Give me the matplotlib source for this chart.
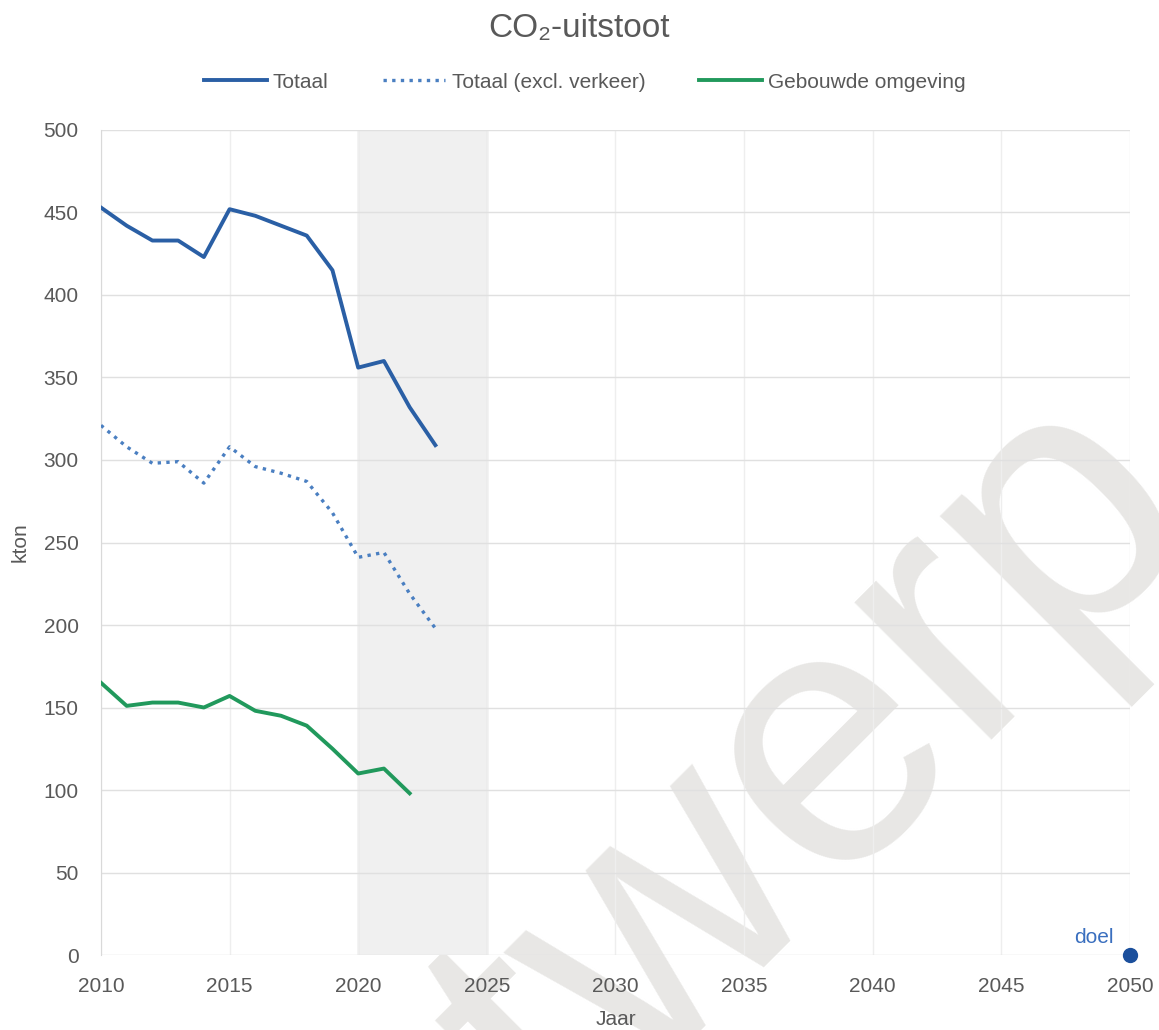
import matplotlib.pyplot as plt

plt.rcParams['font.family'] = ['Liberation Sans', 'DejaVu Sans']

years = list(range(2010, 2024))
totaal = [453, 442, 433, 433, 423, 452, 448, 442, 436, 415, 356, 360, 332, 309]
totaal_excl = [321, 308, 298, 299, 286, 308, 296, 292, 287, 268, 241, 244, 219, 198]
years_gebouwd = list(range(2010, 2023))
gebouwd = [165, 151, 153, 153, 150, 157, 148, 145, 139, 125, 110, 113, 98]
doel_jaar = [2050]
doel = [0]
xticks = list(range(2010, 2051, 5))
yticks = list(range(0, 501, 50))

grey = '#595959'

fig = plt.figure(figsize=(11.59, 10.30), dpi=100)
ax = fig.add_axes([0.0871, 0.0728, 0.8878, 0.801])
ax.set_zorder(1)
ax.patch.set_alpha(0)

# watermark behind the plot
fig.text(1.036, 0.502, 'Ontwerp', rotation=45, rotation_mode='anchor',
         ha='right', va='baseline', fontsize=265, color='#e8e7e5', zorder=0)

ax.axvspan(2020, 2025, color='#f0f0f0', zorder=0)
ax.axvline(2020, color='#dcdcdc', lw=1, zorder=0.5)
ax.axvline(2025, color='#dcdcdc', lw=1, zorder=0.5)

ax.plot(years, totaal, color='#2a5fa5', lw=2.8, label='Totaal', zorder=3)
ax.plot(years, totaal_excl, color='#4a7fc1', lw=2.4, ls=(0, (1, 1.6)),
        label='Totaal (excl. verkeer)', zorder=3)
ax.plot(years_gebouwd, gebouwd, color='#21995c', lw=2.8,
        label='Gebouwde omgeving', zorder=3)
ax.plot(doel_jaar, doel, 'o', color='#1b4f9c', ms=10, clip_on=False, zorder=4)
ax.annotate('doel', (doel_jaar[0], doel[0]), xytext=(-40, 9),
            textcoords='offset points', color='#3a6fbf', fontsize=15)

ax.set_xlim(2010, 2050)
ax.set_ylim(0, 500)
ax.set_xticks(xticks)
ax.set_yticks(yticks)
ax.grid(True, axis='y', color='#e0e0e0', lw=1, zorder=1)
ax.grid(True, axis='x', color='#eeeeee', lw=1, zorder=1)
ax.set_axisbelow(True)
ax.tick_params(length=0, labelsize=15, labelcolor=grey)
ax.tick_params(axis='x', pad=16)
ax.tick_params(axis='y', pad=16)
for s in ['top', 'right', 'bottom']:
    ax.spines[s].set_visible(False)
ax.spines['left'].set_color('#d9d9d9')

ax.set_xlabel('Jaar', fontsize=15, color=grey, labelpad=10)
ax.set_ylabel('kton', fontsize=15, color=grey, labelpad=10)

fig.suptitle('CO₂-uitstoot', fontsize=24, color=grey, x=0.5, y=0.987)
leg = fig.legend(loc='center', bbox_to_anchor=(585 / 1159, 1 - 82 / 1030),
                 ncol=3, frameon=False, fontsize=15, handlelength=3.0,
                 handletextpad=0.3, columnspacing=2.6)
for t in leg.get_texts():
    t.set_color(grey)

fig.savefig('out.png', dpi=100)
